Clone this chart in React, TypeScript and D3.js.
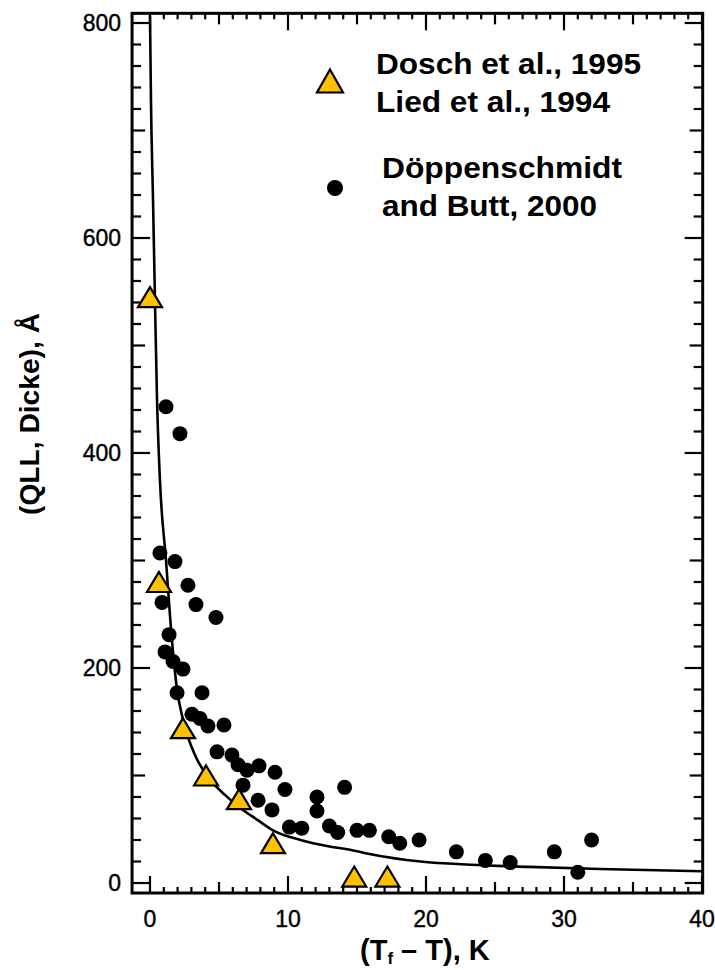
import React from "react";
import * as d3 from "d3";

// ---- data ----
const xTickLabels = [0, 10, 20, 30, 40];
const yTickLabels = [0, 200, 400, 600, 800];

// Dosch et al., 1995 / Lied et al., 1994 (triangles)
const triangleX = [0.0, 0.65, 2.39, 4.06, 6.45, 8.91, 14.8, 17.2];
const triangleY = [545, 280, 144, 100, 78, 37, 6, 6];

// Döppenschmidt and Butt, 2000 (dots)
const dotX = [
  1.16, 2.17, 0.72, 1.81, 2.75, 0.87, 3.33, 4.78, 1.38, 1.09, 1.67, 2.39, 1.96,
  3.77, 3.04, 3.62, 4.2, 5.36, 4.86, 5.94, 6.38, 7.03, 7.9, 6.74, 9.06, 9.78,
  7.83, 8.84, 12.1, 12.1, 14.1, 10.1, 11.0, 13.0, 13.6, 15.0, 15.9, 17.3, 18.1,
  19.5, 22.2, 24.3, 26.1, 29.3, 31.0, 32.0,
];
const dotY = [
  443, 418, 307, 299, 277, 261, 259, 247, 231, 215, 206, 199, 177, 177, 157,
  153, 146, 147, 122, 119, 110, 105, 109, 91, 103, 87, 77, 68, 80, 67, 89, 52,
  51, 53, 47, 49, 49, 43, 37, 40, 29, 21, 19, 29, 10, 40,
];

// fitted curve
const curveX = [
  0.0, 0.07, 0.22, 0.36, 0.51, 0.72, 1.16, 1.59, 1.96, 2.39, 3.26, 4.3, 5.43,
  6.52, 7.75, 8.91, 10.9, 13.0, 14.5, 15.9, 19.6, 23.2, 27.5, 32.6, 40.0,
];
const curveY = [
  807, 728, 635, 542, 449, 375, 300, 226, 180, 152, 119, 97, 82, 70, 59, 49, 40,
  34, 31, 27, 20, 17, 15, 13, 11,
];

const legendSeries1 = ["Dosch et al., 1995", "Lied et al., 1994"];
const legendSeries2 = ["Döppenschmidt", "and Butt, 2000"];
const yAxisTitle = "(QLL, Dicke), Å";

// ---- layout ----
const W = 715;
const H = 970;
const FONT = "'Liberation Sans', Arial, Helvetica, sans-serif";
const YELLOW = "#FFC000";

export default function App() {
  const x = d3.scaleLinear().domain([0, 40]).range([150, 702]);
  const y = d3.scaleLinear().domain([0, 800]).range([883, 23]);

  const left = x(-1.3);
  const right = x(40.05);
  const top = y(809);
  const bottom = y(-9.3);

  const line = d3
    .line<number>()
    .x((_, i) => x(curveX[i]))
    .y((_, i) => y(curveY[i]))
    .curve(d3.curveMonotoneX);

  const xMinor = d3.range(0, 41, 1);
  const yMinor = d3.range(0, 801, 20);

  const xLen = (v: number) => (v % 10 === 0 ? 17 : v % 5 === 0 ? 11 : 6);
  const yLen = (v: number) => (v % 200 === 0 ? 18 : v % 100 === 0 ? 13 : 9);

  const tri = (w: number, h: number) =>
    `M0,${-h / 2}L${w / 2},${h / 2}L${-w / 2},${h / 2}Z`;

  return (
    <svg
      width={W}
      height={H}
      style={{ position: "absolute", left: 0, top: 0, background: "#fff" }}
      fontFamily={FONT}
    >
      <rect x={0} y={0} width={W} height={H} fill="#fff" />

      {/* ticks */}
      <g stroke="#000" strokeWidth={2.2}>
        {xMinor.map((v) => (
          <g key={"xt" + v}>
            <line x1={x(v)} x2={x(v)} y1={bottom} y2={bottom - xLen(v)} />
            <line x1={x(v)} x2={x(v)} y1={top} y2={top + xLen(v)} />
          </g>
        ))}
        {yMinor.map((v) => (
          <g key={"yt" + v}>
            <line x1={left} x2={left + yLen(v)} y1={y(v)} y2={y(v)} />
            <line x1={right} x2={right - yLen(v)} y1={y(v)} y2={y(v)} />
          </g>
        ))}
      </g>

      {/* frame */}
      <rect
        x={left}
        y={top}
        width={right - left}
        height={bottom - top}
        fill="none"
        stroke="#000"
        strokeWidth={3}
      />

      {/* tick labels */}
      <g fontSize={23} fill="#000" stroke="#000" strokeWidth={0.4}>
        {yTickLabels.map((v) => (
          <text key={"yl" + v} x={121} y={y(v)} dy="0.36em" textAnchor="end">
            {v}
          </text>
        ))}
        {xTickLabels.map((v) => (
          <text key={"xl" + v} x={x(v)} y={927} textAnchor="middle">
            {v}
          </text>
        ))}
      </g>

      {/* fitted curve */}
      <path
        d={line(curveX) || ""}
        fill="none"
        stroke="#000"
        strokeWidth={2.6}
      />

      {/* dots */}
      <g fill="#000">
        {dotX.map((v, i) => (
          <circle key={"d" + i} cx={x(v)} cy={y(dotY[i])} r={7.5} />
        ))}
      </g>

      {/* triangles */}
      <g fill={YELLOW} stroke="#000" strokeWidth={2.2} strokeLinejoin="miter">
        {triangleX.map((v, i) => (
          <path
            key={"t" + i}
            d={tri(24, 20)}
            transform={`translate(${x(v)},${y(triangleY[i])})`}
          />
        ))}
      </g>

      {/* legend */}
      <path
        d={tri(26, 23)}
        transform="translate(330,81)"
        fill={YELLOW}
        stroke="#000"
        strokeWidth={2.2}
      />
      <circle cx={335} cy={188} r={8} fill="#000" />
      <g fontSize={30} fontWeight="bold" fill="#000">
        <text x={376} y={74} textLength={265} lengthAdjust="spacingAndGlyphs">
          {legendSeries1[0]}
        </text>
        <text x={376} y={112} textLength={234} lengthAdjust="spacingAndGlyphs">
          {legendSeries1[1]}
        </text>
        <text x={382} y={178} textLength={240} lengthAdjust="spacingAndGlyphs">
          {legendSeries2[0]}
        </text>
        <text x={382} y={216} textLength={215} lengthAdjust="spacingAndGlyphs">
          {legendSeries2[1]}
        </text>
      </g>

      {/* axis titles */}
      <text
        transform="translate(39,414) rotate(-90)"
        textAnchor="middle"
        fontSize={27}
        fontWeight="bold"
        textLength={202}
        lengthAdjust="spacingAndGlyphs"
      >
        {yAxisTitle}
      </text>
      <text x={360} y={960} fontSize={29} fontWeight="bold">
        (T
        <tspan fontSize={17} dy={4}>
          f
        </tspan>
        <tspan dy={-4}> – T), K</tspan>
      </text>
    </svg>
  );
}
